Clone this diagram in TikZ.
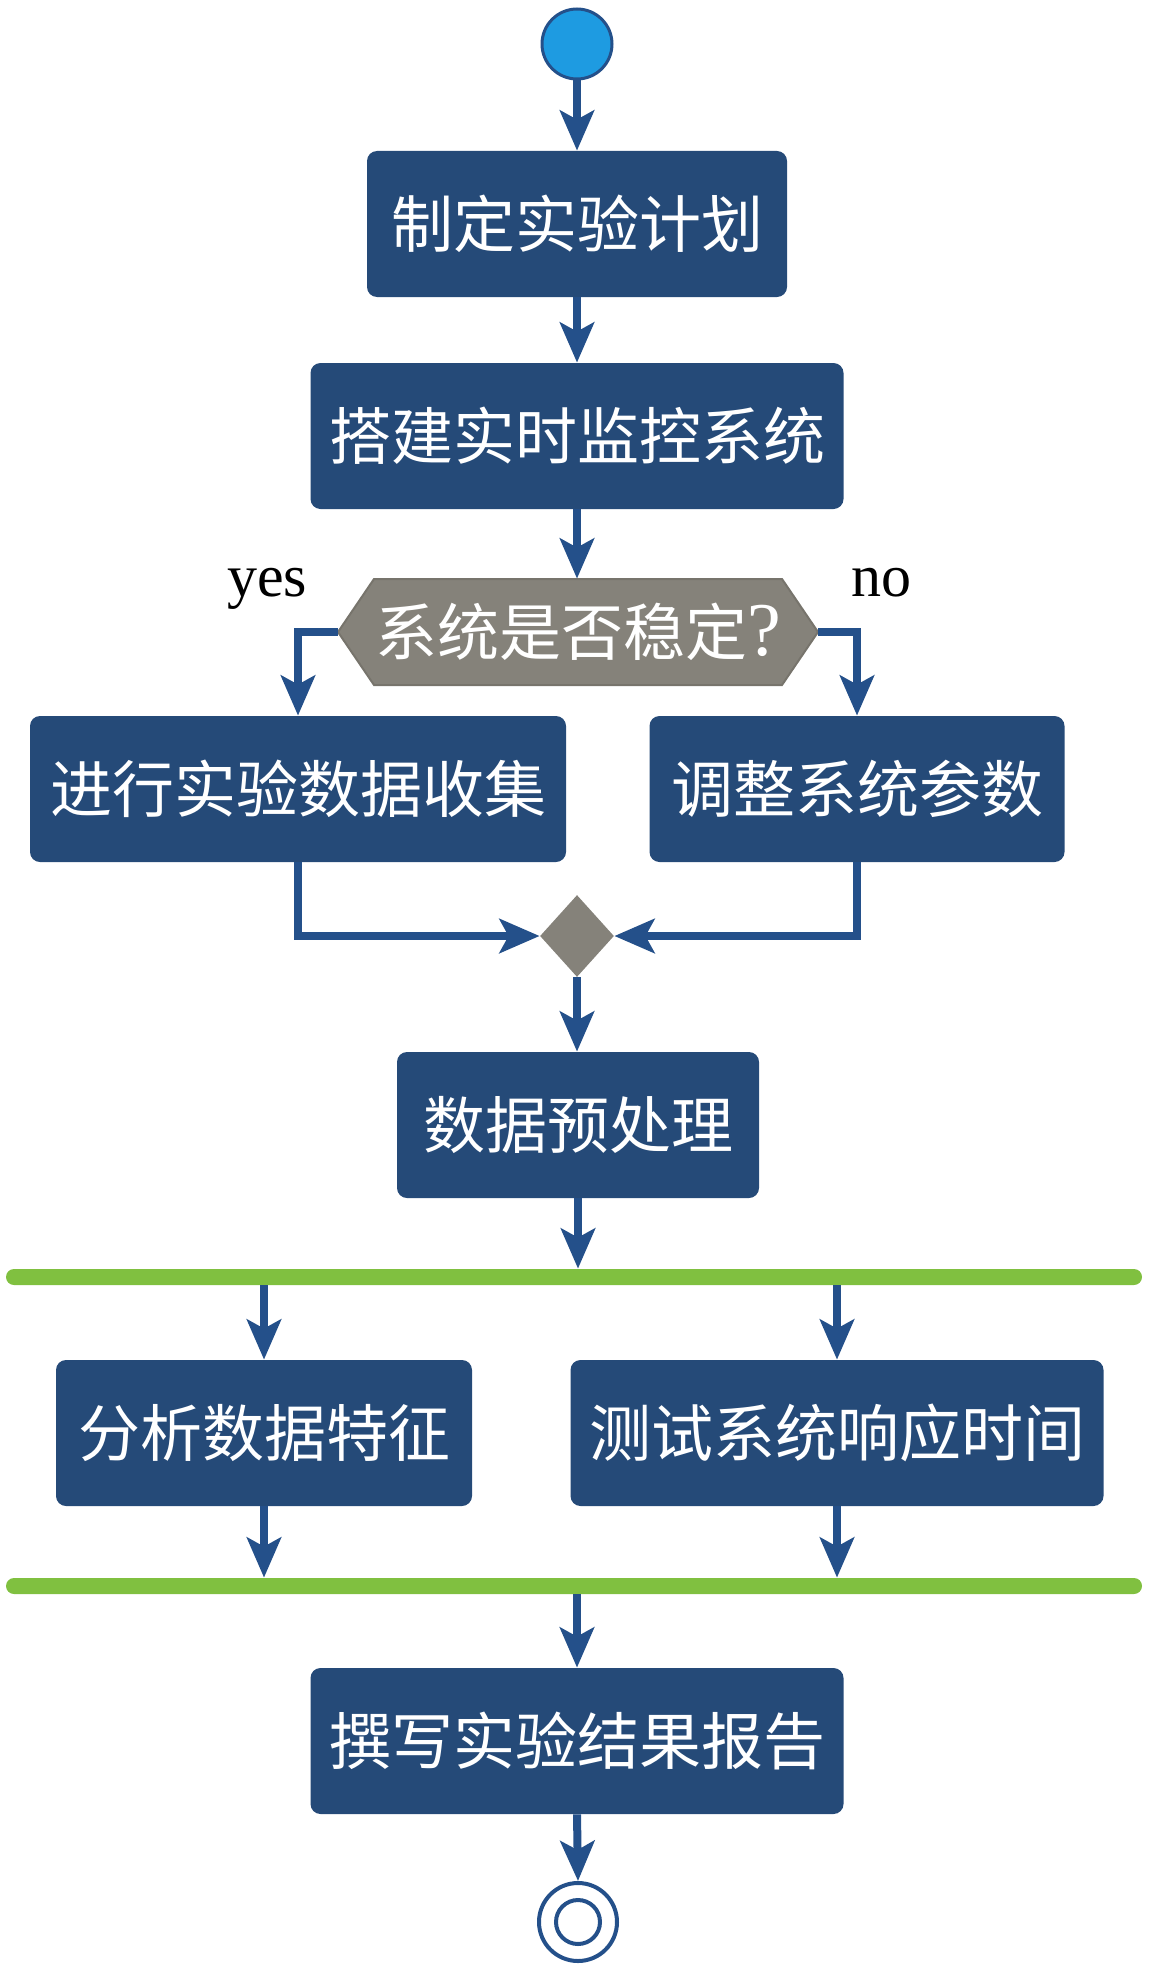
\documentclass[tikz,border=0pt]{standalone}
\usepackage{fontspec}
\setmainfont{Noto Sans CJK SC}
\newfontfamily\seriffont{Liberation Serif}
\usetikzlibrary{arrows.meta,shapes.geometric}
\definecolor{boxblue}{HTML}{254A78}
\definecolor{lineblue}{HTML}{24508A}
\definecolor{startblue}{HTML}{1E9BE1}
\definecolor{decgray}{HTML}{85827A}
\definecolor{decedge}{HTML}{77746C}
\definecolor{bargreen}{HTML}{80C040}
\begin{document}
\begin{tikzpicture}[x=0.5pt,y=-0.5pt,
  actbox/.style={rectangle, rounded corners=5pt, fill=boxblue, text=white,
    font=\fontsize{31pt}{31pt}\selectfont, minimum height=73pt, inner sep=0pt},
  flow/.style={line width=4pt, draw=lineblue,
    -{Stealth[length=20pt,width=17pt,inset=4.5pt]}},
  bar/.style={rectangle, rounded corners=4pt, fill=bargreen, minimum width=568pt,
    minimum height=8pt, inner sep=0pt},
  lbl/.style={font=\seriffont\fontsize{30pt}{30pt}\selectfont, anchor=base, inner sep=0pt}
]
\useasboundingbox (0,0) rectangle (1148,1969);

% start
\node[circle, fill=startblue, draw=lineblue, line width=1.5pt, minimum size=35pt, inner sep=0pt] (start) at (577,44) {};

\node[actbox, minimum width=210pt] (plan) at (577,224) {制定实验计划};
\node[actbox, minimum width=266.5pt] (build) at (577,436) {搭建实时监控系统};

% decision hexagon
\filldraw[fill=decgray, draw=decedge, line width=1pt] (338,632) -- (374,579) -- (782,579) -- (818,632) -- (782,685) -- (374,685) -- cycle;
\node[rectangle, minimum width=240pt, minimum height=53pt, inner sep=0pt, text=white,
  font=\fontsize{31pt}{31pt}\selectfont] (dec) at (578,632) {系统是否稳定{\seriffont\fontsize{38pt}{38pt}\selectfont ?}};

\node[lbl] (yes) at (267,596) {yes};
\node[lbl] (no) at (881,596) {no};

\node[actbox, minimum width=268pt] (collect) at (298,789) {进行实验数据收集};
\node[actbox, minimum width=207.5pt] (adjust) at (857,789) {调整系统参数};

% merge
\node[diamond, fill=decgray, minimum width=37pt, minimum height=41pt, inner sep=0pt] (merge) at (577,936) {};

\node[actbox, minimum width=181pt] (prep) at (578,1125) {数据预处理};

\node[bar] (bar1) at (574,1277) {};

\node[actbox, minimum width=208pt] (analyze) at (264,1433) {分析数据特征};
\node[actbox, minimum width=266.5pt] (test) at (837,1433) {测试系统响应时间};

\node[bar] (bar2) at (574,1586) {};

\node[actbox, minimum width=266.5pt] (report) at (577,1741) {撰写实验结果报告};

% end
\node[circle, draw=lineblue, line width=2pt, minimum size=39pt, inner sep=0pt] (finish) at (578,1922) {};
\node[circle, draw=lineblue, line width=2pt, minimum size=22pt, inner sep=0pt] (finishin) at (578,1922) {};

% connectors
\draw[flow] (start) -- (plan.north);
\draw[flow] (plan.south) -- (build.north);
\draw[flow] (build.south) -- (build.south |- dec.north);
\draw[flow] (dec.west) -| (collect.north);
\draw[flow] (dec.east) -| (adjust.north);
\draw[flow] (collect.south) |- (merge.west);
\draw[flow] (adjust.south) |- (merge.east);
\draw[flow] (merge.south) -- (merge.south |- prep.north);
\draw[flow] (prep.south) -- (prep.south |- bar1.north);
\draw[flow] (bar1.south -| analyze.north) -- (analyze.north);
\draw[flow] (bar1.south -| test.north) -- (test.north);
\draw[flow] (analyze.south) -- (analyze.south |- bar2.north);
\draw[flow] (test.south) -- (test.south |- bar2.north);
\draw[flow] (bar2.south -| report.north) -- (report.north);
\draw[flow] (report.south) -- (finish.north);
\end{tikzpicture}
\end{document}
